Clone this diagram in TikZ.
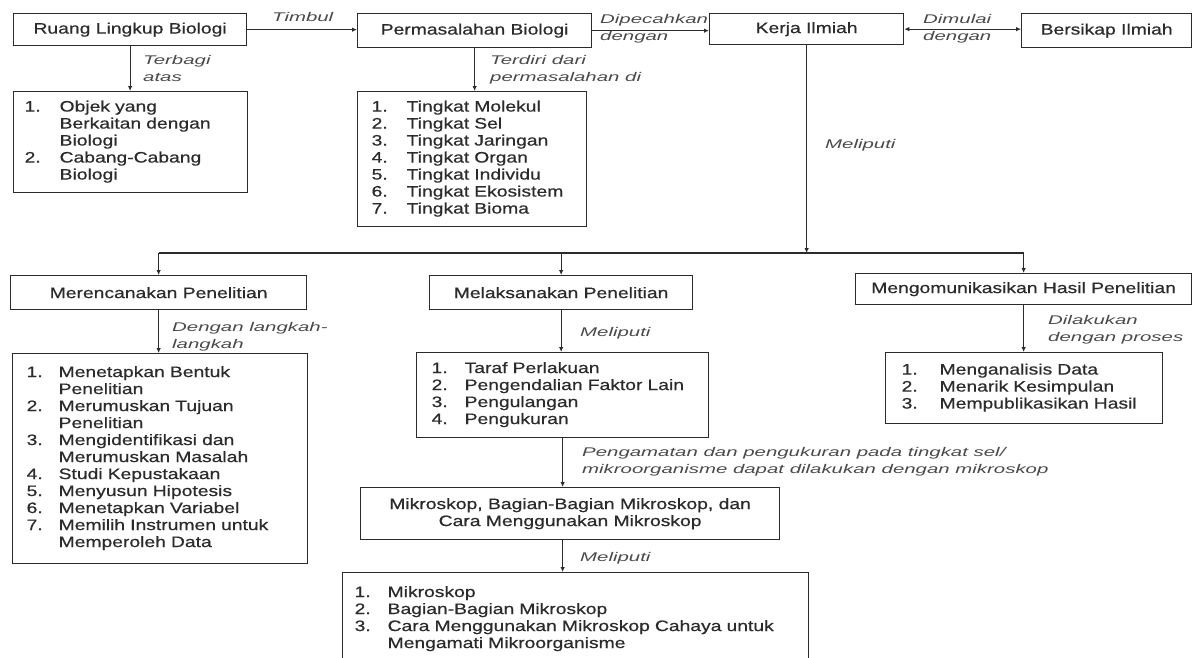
\documentclass[tikz,border=0pt]{standalone}
\usepackage{fontspec}
\setmainfont{Liberation Sans}[FakeStretch=1.27,FakeBold=0.5]
\newfontfamily\lblfont{Liberation Sans}[FakeStretch=1.62]
\usetikzlibrary{arrows.meta}
\definecolor{ink}{HTML}{2b2b2b}
\definecolor{lbl}{HTML}{4a4a4a}
\newcommand{\mainfs}{\fontsize{15.2}{17}\selectfont}
\newcommand{\lblfs}{\fontsize{12.6}{17}\selectfont}
\newcommand{\itemlist}[2]{\begin{tabular}{@{}p{#1}@{}l@{}}#2\end{tabular}}
\begin{document}
\begin{tikzpicture}[x=1pt,y=-1pt,
  box/.style={draw=ink, line width=1.3pt, inner sep=0pt, anchor=north west, text=ink, font=\mainfs},
  title/.style={box, align=center},
  lst/.style={box, align=left},
  lab/.style={anchor=base west, inner sep=0pt, text=lbl, font=\lblfont\itshape\lblfs, align=left},
  arr/.style={draw=ink, line width=1.3pt, -{Latex[length=5pt,width=4.5pt]}},
  darr/.style={draw=ink, line width=1.3pt, {Latex[length=5pt,width=4.5pt]}-{Latex[length=5pt,width=4.5pt]}},
  ln/.style={draw=ink, line width=1.3pt}]
\useasboundingbox (0,0) rectangle (1192,657);
\clip (0,0) rectangle (1192,657);
\fill[white] (0,0) rectangle (1192,657);

% top row
\node[title, minimum width=233, minimum height=32] (ruang) at (13,13) {Ruang Lingkup Biologi};
\node[title, minimum width=234, minimum height=34] (perm) at (357,13) {Permasalahan Biologi};
\node[title, minimum width=194, minimum height=31] (kerja) at (709,13) {Kerja Ilmiah};
\node[title, minimum width=170, minimum height=34] (bers) at (1021,13) {Bersikap Ilmiah};

% top lists
\node[lst, text width=212, inner xsep=11, minimum height=101] (objek) at (13,91)
 {\itemlist{35pt}{1. & Objek yang\\ & Berkaitan dengan\\ & Biologi\\ 2. & Cabang-Cabang\\ & Biologi}};
\node[lst, text width=201, inner xsep=14, minimum height=135] (tingkat) at (357,91)
 {\itemlist{35pt}{1. & Tingkat Molekul\\ 2. & Tingkat Sel\\ 3. & Tingkat Jaringan\\ 4. & Tingkat Organ\\ 5. & Tingkat Individu\\ 6. & Tingkat Ekosistem\\ 7. & Tingkat Bioma}};

% middle row
\node[title, minimum width=296, minimum height=34] (meren) at (10,275) {Merencanakan Penelitian};
\node[title, minimum width=263, minimum height=34] (melaks) at (429,275) {Melaksanakan Penelitian};
\node[title, minimum width=336, minimum height=31] (mengom) at (855,273) {Mengomunikasikan Hasil Penelitian};

\node[lst, text width=267, inner xsep=14, minimum height=210] (rlist) at (12,353)
 {\itemlist{32pt}{1. & Menetapkan Bentuk\\ & Penelitian\\ 2. & Merumuskan Tujuan\\ & Penelitian\\ 3. & Mengidentifikasi dan\\ & Merumuskan Masalah\\ 4. & Studi Kepustakaan\\ 5. & Menyusun Hipotesis\\ 6. & Menetapkan Variabel\\ 7. & Memilih Instrumen untuk\\ & Memperoleh Data}};
\node[lst, text width=262, inner xsep=15, minimum height=85] (mlist) at (416,352)
 {\itemlist{33pt}{1. & Taraf Perlakuan\\ 2. & Pengendalian Faktor Lain\\ 3. & Pengulangan\\ 4. & Pengukuran}};
\node[lst, text width=245, inner xsep=16, minimum height=71] (klist) at (885,352)
 {\itemlist{38pt}{1. & Menganalisis Data\\ 2. & Menarik Kesimpulan\\ 3. & Mempublikasikan Hasil}};

% bottom
\node[title, minimum width=419, minimum height=52] (mikro) at (360,487) {Mikroskop, Bagian-Bagian Mikroskop, dan\\Cara Menggunakan Mikroskop};
\node[lst, text width=442, inner xsep=12, minimum height=93] (flist) at (342,572)
 {\itemlist{33pt}{1. & Mikroskop\\ 2. & Bagian-Bagian Mikroskop\\ 3. & Cara Menggunakan Mikroskop Cahaya untuk\\ & Mengamati Mikroorganisme}};

% connectors top
\draw[arr] (ruang.east) -- (ruang.east -| perm.west);
\node[lab] (l1) at (272,21) {Timbul};
\draw[arr] (perm.east) -- (perm.east -| kerja.west);
\node[lab] (l2) at (600,40) {Dipecahkan\\dengan};
\draw[darr] (kerja.east) -- (kerja.east -| bers.west);
\node[lab] (l3) at (923,40) {Dimulai\\dengan};
\draw[arr] (ruang.south) -- (ruang.south |- objek.north);
\node[lab] (l4) at (143,81) {Terbagi\\atas};
\draw[arr] (perm.south) -- (perm.south |- tingkat.north);
\node[lab] (l5) at (490,81) {Terdiri dari\\permasalahan di};

% bus
\coordinate (busL) at (158,253);
\draw[arr] (kerja.south) -- (kerja.south |- busL);
\node[lab] (l6) at (825,148) {Meliputi};
\draw[ln] (meren.north |- busL) -- (mengom.north |- busL);
\draw[arr] (meren.north |- busL) -- (meren.north);
\draw[arr] (melaks.north |- busL) -- (melaks.north);
\draw[arr] (mengom.north |- busL) -- (mengom.north);

% middle connectors
\draw[arr] (meren.south) -- (meren.south |- rlist.north);
\node[lab] (l7) at (172,348) {Dengan langkah-\\langkah};
\draw[arr] (melaks.south) -- (melaks.south |- mlist.north);
\node[lab] (l8) at (580,336) {Meliputi};
\draw[arr] (mengom.south) -- (mengom.south |- klist.north);
\node[lab] (l9) at (1048,341) {Dilakukan\\dengan proses};

% bottom connectors
\draw[arr] (mlist.south) -- (mlist.south |- mikro.north);
\node[lab] (l10) at (582,473) {Pengamatan dan pengukuran pada tingkat sel/\\mikroorganisme dapat dilakukan dengan mikroskop};
\draw[arr] (mlist.south |- mikro.south) -- (mlist.south |- flist.north);
\node[lab] (l11) at (580,561) {Meliputi};
\end{tikzpicture}
\end{document}
